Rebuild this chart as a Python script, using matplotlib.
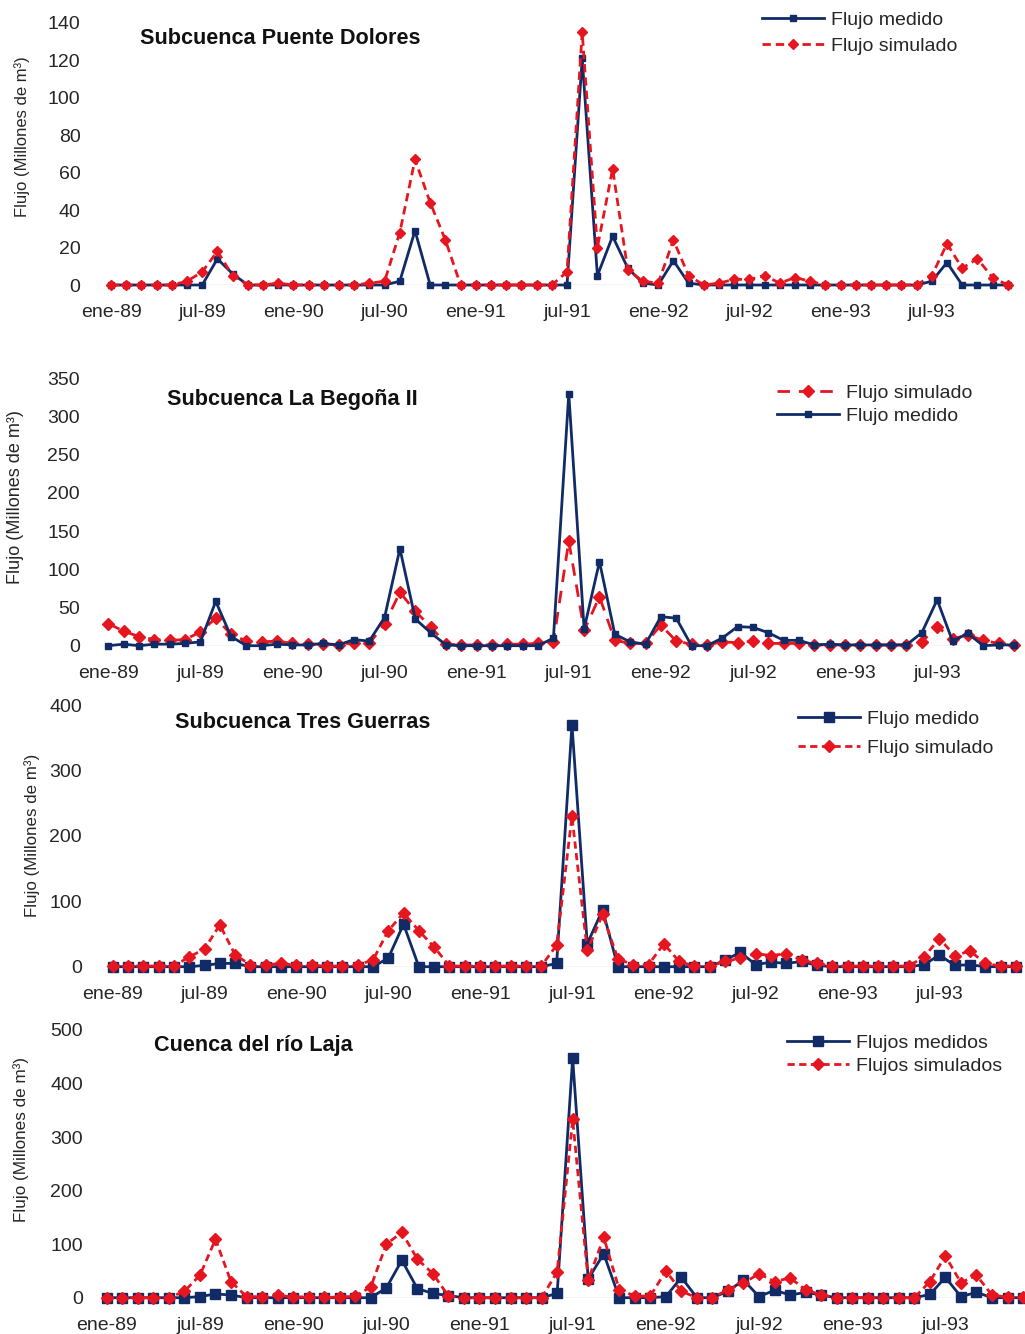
import matplotlib
matplotlib.use("Agg")
import matplotlib.pyplot as plt

plt.rcParams['font.family'] = ['Liberation Sans', 'DejaVu Sans']

# Monthly series, ene-89 .. dic-93 (60 months), millones de m3
etiquetas_x = ['ene-89', 'jul-89', 'ene-90', 'jul-90', 'ene-91',
               'jul-91', 'ene-92', 'jul-92', 'ene-93', 'jul-93']

medido_puente_dolores = [0, 0, 0, 0, 0, 0, 0, 14, 6, 0, 0, 0,
                         0, 0, 0, 0, 0, 0, 0, 2, 29, 0, 0, 0,
                         0, 0, 0, 0, 0, 0, 0, 121, 5, 26, 9, 1,
                         0, 13, 1, 0, 0, 0, 0, 0, 0, 0, 0, 0,
                         0, 0, 0, 0, 0, 0, 2, 12, 0, 0, 0, 0]
simulado_puente_dolores = [0, 0, 0, 0, 0, 2, 7, 18, 5, 0, 0, 1,
                           0, 0, 0, 0, 0, 1, 2, 28, 67, 44, 24, 0,
                           0, 0, 0, 0, 0, 0, 7, 135, 20, 62, 8, 2,
                           1, 24, 5, 0, 1, 3, 3, 5, 1, 4, 2, 0,
                           0, 0, 0, 0, 0, 0, 5, 22, 9, 14, 4, 0]

medido_begona = [0, 2, 0, 2, 2, 3, 5, 58, 12, 0, 0, 2,
                 1, 1, 3, 1, 8, 6, 37, 127, 35, 17, 1, 0,
                 0, 0, 0, 0, 0, 10, 330, 22, 110, 15, 5, 2,
                 38, 36, 0, 0, 10, 25, 24, 17, 7, 7, 1, 2,
                 1, 1, 1, 1, 1, 17, 60, 6, 16, 0, 1, 1]
simulado_begona = [29, 19, 12, 8, 7, 8, 18, 36, 15, 6, 5, 6,
                   3, 2, 2, 1, 4, 3, 28, 70, 45, 25, 2, 1,
                   1, 1, 2, 2, 3, 5, 137, 20, 64, 7, 3, 3,
                   27, 6, 2, 1, 5, 4, 6, 3, 3, 3, 1, 1,
                   1, 1, 1, 1, 1, 5, 25, 9, 14, 7, 3, 1]

medido_tres_guerras = [0, 0, 0, 0, 0, 0, 2, 5, 5, 0, 0, 0,
                       0, 0, 0, 0, 0, 0, 13, 65, 0, 0, 0, 0,
                       0, 0, 0, 0, 0, 5, 370, 35, 87, 0, 0, 0,
                       0, 0, 0, 0, 10, 22, 3, 7, 5, 8, 2, 0,
                       0, 0, 0, 0, 0, 3, 18, 2, 3, 0, 0, 0]
simulado_tres_guerras = [1, 1, 1, 1, 1, 15, 27, 64, 18, 3, 3, 5,
                         2, 2, 1, 1, 3, 10, 55, 82, 55, 30, 1, 1,
                         1, 1, 1, 1, 1, 33, 230, 25, 80, 12, 3, 3,
                         35, 8, 1, 1, 8, 13, 20, 17, 20, 10, 5, 1,
                         1, 1, 1, 1, 1, 15, 43, 17, 24, 5, 1, 1]

medido_laja = [0, 0, 0, 0, 0, 0, 2, 7, 5, 0, 0, 0,
               0, 0, 0, 0, 0, 0, 18, 70, 17, 8, 4, 0,
               0, 0, 0, 0, 0, 8, 447, 35, 82, 0, 0, 0,
               2, 38, 0, 0, 12, 33, 2, 14, 5, 10, 5, 0,
               0, 0, 0, 0, 0, 6, 38, 2, 10, 0, 0, 0]
simulado_laja = [0, 0, 0, 0, 0, 12, 42, 109, 30, 2, 2, 5,
                 1, 2, 1, 1, 3, 20, 100, 122, 72, 45, 3, 0,
                 0, 0, 0, 0, 0, 48, 333, 33, 113, 15, 3, 3,
                 50, 12, 0, 0, 15, 27, 45, 30, 37, 15, 5, 0,
                 0, 0, 0, 0, 0, 30, 78, 28, 42, 5, 1, 1]

AZUL = '#102B66'
ROJO = '#E5161F'
GRIS_TEXTO = '#262626'

W, H = 1025, 1334
fig = plt.figure(figsize=(W / 100, H / 100), dpi=100)


def px_rect(l, r, t, b):
    return [l / W, 1 - b / H, (r - l) / W, (b - t) / H]


paneles = [
    dict(titulo='Subcuenca Puente Dolores', tit_xy=(140, 39), tit_fs=15.6,
         medido=medido_puente_dolores, simulado=simulado_puente_dolores,
         lab_med='Flujo medido', lab_sim='Flujo simulado', sim_arriba=True,
         legend_first='med', leg_xy=(762, 11), leg_spacing=0.45,
         rect=(103.4, 1015.4, 22.7, 285), ymax=140, paso=20,
         ylab_xy=(22, 137), ylab_fs=12, ypad=16.5,
         ms_med=5, ms_sim=5.5, dash=(3, 1.8)),
    dict(titulo='Subcuenca La Begoña II', tit_xy=(167, 399), tit_fs=15.6,
         medido=medido_begona, simulado=simulado_begona,
         lab_med='Flujo medido', lab_sim='Flujo simulado', sim_arriba=False,
         legend_first='sim', leg_xy=(777, 384), leg_spacing=0.3,
         rect=(100.6, 1021.6, 378.3, 645.7), ymax=350, paso=50,
         ylab_xy=(16, 497), ylab_fs=13, ypad=14.8,
         ms_med=4.5, ms_sim=6, dash=(4.5, 3.2)),
    dict(titulo='Subcuenca Tres Guerras', tit_xy=(175, 722), tit_fs=15.6,
         medido=medido_tres_guerras, simulado=simulado_tres_guerras,
         lab_med='Flujo medido', lab_sim='Flujo simulado', sim_arriba=True,
         legend_first='med', leg_xy=(798, 710), leg_spacing=0.6,
         rect=(105, 1023.6, 705, 966.7), ymax=400, paso=100,
         ylab_xy=(32, 835), ylab_fs=12.2, ypad=16.5,
         ms_med=7.5, ms_sim=6.5, dash=(2.6, 1.6)),
    dict(titulo='Cuenca del río Laja', tit_xy=(154, 1045), tit_fs=15.6,
         medido=medido_laja, simulado=simulado_laja,
         lab_med='Flujos medidos', lab_sim='Flujos simulados', sim_arriba=True,
         legend_first='med', leg_xy=(787, 1034), leg_spacing=0.3,
         rect=(99, 1030.8, 1030, 1297.7), ymax=500, paso=100,
         ylab_xy=(21, 1140), ylab_fs=12.3, ypad=11.5,
         ms_med=7.5, ms_sim=6.5, dash=(2.6, 1.6)),
]

for p in paneles:
    ax = fig.add_axes(px_rect(*p['rect']))
    meses = list(range(len(p['medido'])))
    z_med, z_sim = (3, 4) if p['sim_arriba'] else (4, 3)
    l_med, = ax.plot(meses, p['medido'], color=AZUL, lw=2.0, marker='s',
                     ms=p['ms_med'], mfc=AZUL, mec=AZUL, clip_on=False,
                     zorder=z_med, label=p['lab_med'])
    l_sim, = ax.plot(meses, p['simulado'], color=ROJO, lw=2.0, ls='--',
                     dashes=p['dash'], marker='D', ms=p['ms_sim'], mfc=ROJO,
                     mec=ROJO, clip_on=False, zorder=z_sim, label=p['lab_sim'])
    ax.axhline(0, color='#C8C8C8', lw=1.0, zorder=1)

    ax.set_xlim(-0.5, len(meses) - 0.5)
    ax.set_ylim(0, p['ymax'])
    ax.set_yticks(range(0, p['ymax'] + 1, p['paso']))
    ax.set_xticks(range(0, len(meses), 6))
    ax.set_xticklabels(etiquetas_x)
    for s in ax.spines.values():
        s.set_visible(False)
    ax.tick_params(axis='both', length=0, labelsize=14, colors=GRIS_TEXTO)
    ax.tick_params(axis='y', pad=p['ypad'])
    ax.tick_params(axis='x', pad=14)
    ax.patch.set_alpha(0)

    fig.text(p['tit_xy'][0] / W, 1 - p['tit_xy'][1] / H, p['titulo'],
             fontsize=p['tit_fs'], fontweight='bold', color='#111111',
             ha='left', va='center')
    fig.text(p['ylab_xy'][0] / W, 1 - p['ylab_xy'][1] / H,
             'Flujo (Millones de m³)', rotation=90, fontsize=p['ylab_fs'],
             color=GRIS_TEXTO, ha='center', va='center')

    handles = [l_med, l_sim] if p['legend_first'] == 'med' else [l_sim, l_med]
    ax.legend(handles=handles, loc='upper left',
              bbox_to_anchor=(p['leg_xy'][0] / W, 1 - p['leg_xy'][1] / H),
              bbox_transform=fig.transFigure, frameon=False, fontsize=14,
              borderpad=0, borderaxespad=0, handlelength=3.2,
              handletextpad=0.35, labelspacing=p['leg_spacing'], numpoints=1,
              labelcolor=GRIS_TEXTO)

fig.savefig('out.png', dpi=100, facecolor='white')
